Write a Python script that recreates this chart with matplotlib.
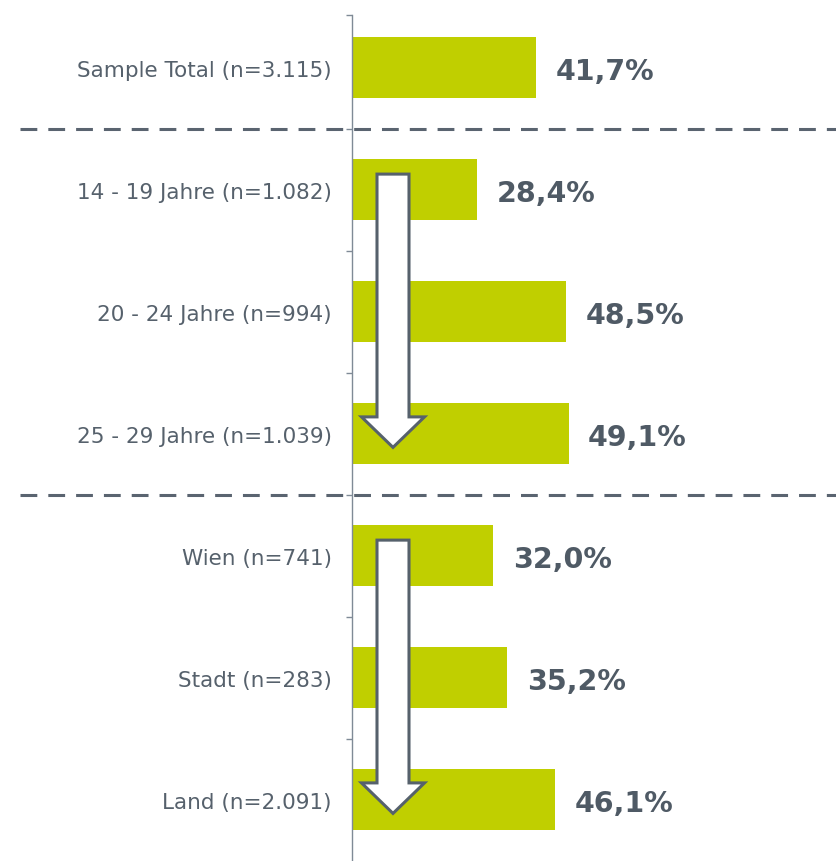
import matplotlib
matplotlib.use("Agg")
import matplotlib.pyplot as plt
from matplotlib.patches import FancyArrow

categories = ["Sample Total (n=3.115)", "14 - 19 Jahre (n=1.082)", "20 - 24 Jahre (n=994)",
              "25 - 29 Jahre (n=1.039)", "Wien (n=741)", "Stadt (n=283)", "Land (n=2.091)"]
values = [41.7, 28.4, 48.5, 49.1, 32.0, 35.2, 46.1]
value_labels = ["41,7%", "28,4%", "48,5%", "49,1%", "32,0%", "35,2%", "46,1%"]
separators = [0.5, 3.5]
arrow_groups = [(1, 3), (4, 6)]

BAR = "#c0cf00"
TXT = "#56616c"
VAL = "#4f5a65"
AX = "#7f8a96"

W, H = 837, 862
fig = plt.figure(figsize=(W / 100, H / 100), dpi=100)
ax = fig.add_axes([352 / W, 0, 1 - 352 / W, 1 - 16 / H])

ypos = list(range(len(categories)))
ax.barh(ypos, values, height=0.5, color=BAR, zorder=2)
ax.set_xlim(0, (W - 352) / 4.41)
ax.set_ylim(6.5, -0.434)

for s in ["top", "right", "bottom"]:
    ax.spines[s].set_visible(False)
ax.spines["left"].set_color(AX)
ax.spines["left"].set_linewidth(1)
ax.set_xticks([])
ax.set_yticks(ypos)
ax.set_yticklabels(categories, fontsize=15.5, color=TXT)
ax.tick_params(axis="y", which="major", length=0, pad=14.5)
ax.set_yticks([-0.434] + [i + 0.5 for i in range(len(categories) - 1)], minor=True)
ax.tick_params(axis="y", which="minor", length=4.5, color=AX, width=1)

for y, v, lab in zip(ypos, values, value_labels):
    ax.annotate(lab, (v, y), xytext=(14, -2), textcoords="offset points",
                ha="left", va="center", fontsize=20.5, fontweight="bold", color=VAL)

x_left = (20 - 352) / 4.41
for s in separators:
    ax.plot([x_left, ax.get_xlim()[1]], [s, s], color="#5a6470", lw=2.2,
            dashes=(5.5, 3.6), clip_on=False, zorder=3)

xc = (393 - 352) / 4.41
for a, b in arrow_groups:
    y0 = a - 0.13
    y1 = b + 0.11
    arr = FancyArrow(xc, y0, 0, y1 - y0, width=32 / 4.41, head_width=63 / 4.41,
                     head_length=0.25, length_includes_head=True,
                     facecolor="white", edgecolor="#56616c", lw=2.2, zorder=4)
    ax.add_patch(arr)

fig.savefig("out.png", dpi=100)
